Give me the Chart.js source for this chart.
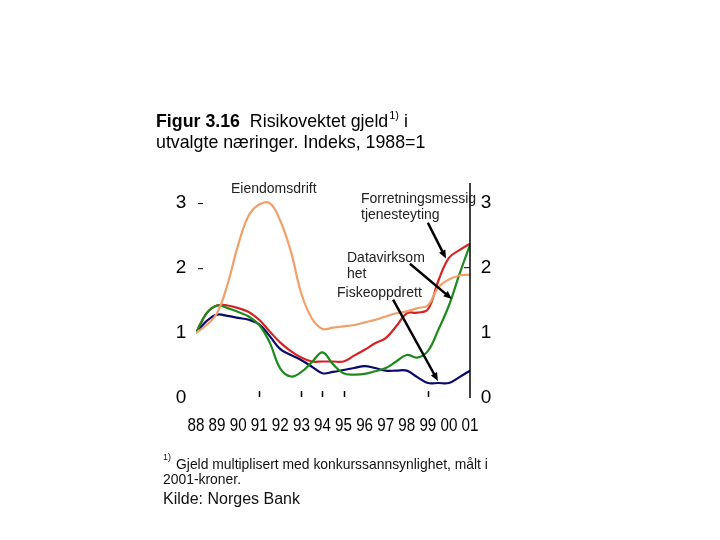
<!DOCTYPE html>
<html>
<head>
<meta charset="utf-8">
<script src="https://cdn.jsdelivr.net/npm/chart.js@4/dist/chart.umd.min.js"></script>
<style>
html, body { margin: 0; padding: 0; background: #fff; }
#wrap { width: 720px; height: 540px; }
</style>
</head>
<body>
<div id="wrap"><canvas id="myChart" width="720" height="540"></canvas></div>
<script>
// x positions (years, half-year steps)
var years = [1988, 1988.5, 1989, 1989.5, 1990, 1990.5, 1991, 1991.5, 1992, 1992.5,
             1993, 1993.5, 1994, 1994.5, 1995, 1995.5, 1996, 1996.5, 1997, 1997.5,
             1998, 1998.5, 1999, 1999.5, 2000, 2000.5, 2001];
var yearTicks = [1988, 1989, 1990, 1991, 1992, 1993, 1994, 1995, 1996, 1997, 1998, 1999, 2000, 2001];
var yearLabels = ['88', '89', '90', '91', '92', '93', '94', '95', '96', '97', '98', '99', '00', '01'];
var valueTicks = [0, 1, 2, 3];
var minorTickYears = [1991, 1993, 1994, 1995, 1999];

// series
var eiendomsdrift = [1.00, 1.12, 1.30, 1.75, 2.35, 2.80, 2.97, 2.99, 2.72, 2.25,
                     1.60, 1.22, 1.06, 1.08, 1.10, 1.12, 1.16, 1.20, 1.25, 1.30,
                     1.33, 1.38, 1.42, 1.70, 1.82, 1.88, 1.89];
var forretning = [1.00, 1.30, 1.42, 1.42, 1.38, 1.32, 1.20, 1.02, 0.85, 0.72,
                  0.62, 0.56, 0.56, 0.56, 0.56, 0.65, 0.74, 0.84, 0.92, 1.10,
                  1.30, 1.31, 1.36, 1.80, 2.15, 2.27, 2.37];
var datavirksomhet = [1.00, 1.30, 1.42, 1.38, 1.32, 1.25, 1.12, 0.85, 0.45, 0.33,
                      0.40, 0.55, 0.70, 0.52, 0.38, 0.36, 0.37, 0.41, 0.46, 0.56,
                      0.66, 0.62, 0.72, 1.05, 1.42, 1.90, 2.35];
var fiskeoppdrett = [1.00, 1.18, 1.28, 1.26, 1.23, 1.20, 1.13, 0.95, 0.75, 0.66,
                     0.58, 0.48, 0.38, 0.40, 0.43, 0.46, 0.49, 0.46, 0.42, 0.42,
                     0.42, 0.32, 0.23, 0.23, 0.23, 0.32, 0.42];

function toPoints(values) {
    return values.map(function (v, i) { return { x: years[i], y: v }; });
}

function seriesLine(label, values, color) {
    return {
        label: label,
        data: toPoints(values),
        borderColor: color,
        backgroundColor: color,
        borderWidth: 2.2,
        pointRadius: 0,
        tension: 0.4,
        fill: false
    };
}

function arrow(ctx, x1, y1, x2, y2) {
    var a = Math.atan2(y2 - y1, x2 - x1);
    var head = 9;
    ctx.beginPath();
    ctx.moveTo(x1, y1);
    ctx.lineTo(x2 - Math.cos(a) * head * 0.8, y2 - Math.sin(a) * head * 0.8);
    ctx.stroke();
    ctx.beginPath();
    ctx.moveTo(x2, y2);
    ctx.lineTo(x2 - head * Math.cos(a - 0.4), y2 - head * Math.sin(a - 0.4));
    ctx.lineTo(x2 - head * Math.cos(a + 0.4), y2 - head * Math.sin(a + 0.4));
    ctx.closePath();
    ctx.fill();
}

// draws axes, labels, title, notes and arrows
var decorations = {
    id: 'decorations',
    afterDraw: function (chart) {
        var ctx = chart.ctx;
        var xs = chart.scales.x, ys = chart.scales.y;
        var area = chart.chartArea;
        var font = '"Liberation Sans", Arial, sans-serif';
        ctx.save();
        ctx.fillStyle = '#000';
        ctx.strokeStyle = '#000';

        // right axis line
        ctx.lineWidth = 1.5;
        ctx.beginPath();
        ctx.moveTo(area.right, area.top);
        ctx.lineTo(area.right, ys.getPixelForValue(0));
        ctx.stroke();
        ctx.lineWidth = 1;
        ctx.beginPath();
        ctx.moveTo(area.right - 6, ys.getPixelForValue(2));
        ctx.lineTo(area.right, ys.getPixelForValue(2));
        ctx.stroke();

        // small bottom ticks
        ctx.lineWidth = 1.5;
        minorTickYears.forEach(function (yr) {
            var px = Math.round(xs.getPixelForValue(yr)) + 0.5;
            ctx.beginPath();
            ctx.moveTo(px, ys.getPixelForValue(0) - 7);
            ctx.lineTo(px, ys.getPixelForValue(0) - 1);
            ctx.stroke();
        });

        // value labels, both sides
        ctx.font = '19px ' + font;
        ctx.textAlign = 'center';
        ctx.textBaseline = 'middle';
        valueTicks.forEach(function (v) {
            var py = ys.getPixelForValue(v);
            ctx.fillText(String(v), area.left - 15, py);
            ctx.fillText(String(v), area.right + 16, py);
            if (v >= 2) {
                ctx.beginPath();
                ctx.moveTo(area.left + 2, py + 1);
                ctx.lineTo(area.left + 7, py + 1);
                ctx.lineWidth = 1;
                ctx.stroke();
            }
        });

        // year labels, condensed
        ctx.textBaseline = 'alphabetic';
        yearTicks.forEach(function (yr, i) {
            var px = xs.getPixelForValue(yr);
            ctx.save();
            ctx.translate(px, ys.getPixelForValue(0) + 33);
            ctx.scale(0.8, 1);
            ctx.fillText(yearLabels[i], 0, 0);
            ctx.restore();
        });

        // title
        ctx.textAlign = 'left';
        ctx.font = 'bold 17.8px ' + font;
        ctx.fillText('Figur 3.16', 156, 127);
        var w = ctx.measureText('Figur 3.16').width;
        ctx.font = '17.8px ' + font;
        var t1 = '  Risikovektet gjeld';
        ctx.fillText(t1, 156 + w, 127);
        w += ctx.measureText(t1).width;
        ctx.font = '11px ' + font;
        ctx.fillText('1)', 156 + w + 1, 119);
        w += ctx.measureText('1)').width + 1;
        ctx.font = '17.8px ' + font;
        ctx.fillText(' i', 156 + w, 127);
        ctx.fillText('utvalgte næringer. Indeks, 1988=1', 156, 148);

        // series annotations
        ctx.fillStyle = '#222';
        ctx.font = '14px ' + font;
        ctx.fillText('Eiendomsdrift', 231, 193);
        ctx.fillText('Forretningsmessig', 361, 203);
        ctx.fillText('tjenesteyting', 361, 219);
        ctx.fillText('Datavirksom', 347, 262);
        ctx.fillText('het', 347, 278);
        ctx.fillText('Fiskeoppdrett', 337, 297);

        // arrows (data coordinates)
        ctx.fillStyle = '#000';
        ctx.strokeStyle = '#000';
        ctx.lineWidth = 2.5;
        arrow(ctx, xs.getPixelForValue(1999.0), ys.getPixelForValue(2.69),
                   xs.getPixelForValue(1999.86), ys.getPixelForValue(2.14));
        arrow(ctx, xs.getPixelForValue(1998.15), ys.getPixelForValue(2.06),
                   xs.getPixelForValue(2000.14), ys.getPixelForValue(1.52));
        arrow(ctx, xs.getPixelForValue(1997.35), ys.getPixelForValue(1.51),
                   xs.getPixelForValue(1999.48), ys.getPixelForValue(0.26));

        // footnote and source
        ctx.fillStyle = '#111';
        ctx.font = '9px ' + font;
        ctx.fillText('1)', 163, 460);
        ctx.font = '13.9px ' + font;
        ctx.fillText('Gjeld multiplisert med konkurssannsynlighet, målt i', 176, 469);
        ctx.fillText('2001-kroner.', 163, 484);
        ctx.font = '16px ' + font;
        ctx.fillText('Kilde: Norges Bank', 163, 504);
        ctx.restore();
    }
};

var ctx = document.getElementById('myChart').getContext('2d');
var chart = new Chart(ctx, {
    type: 'line',
    data: {
        datasets: [
            seriesLine('Eiendomsdrift', eiendomsdrift, '#f0a068'),
            seriesLine('Datavirksomhet', datavirksomhet, '#1e8a1e'),
            seriesLine('Fiskeoppdrett', fiskeoppdrett, '#0a0a6a'),
            seriesLine('Forretningsmessig tjenesteyting', forretning, '#d42424')
        ]
    },
    options: {
        responsive: false,
        devicePixelRatio: 1,
        animation: false,
        layout: { padding: { left: 196, right: 250, top: 183, bottom: 142 } },
        plugins: { legend: { display: false }, tooltip: { enabled: false } },
        scales: {
            x: { type: 'linear', min: 1988, max: 2001, display: false },
            y: { min: 0, max: 3.3, display: false }
        }
    },
    plugins: [decorations]
});
</script>
</body>
</html>
